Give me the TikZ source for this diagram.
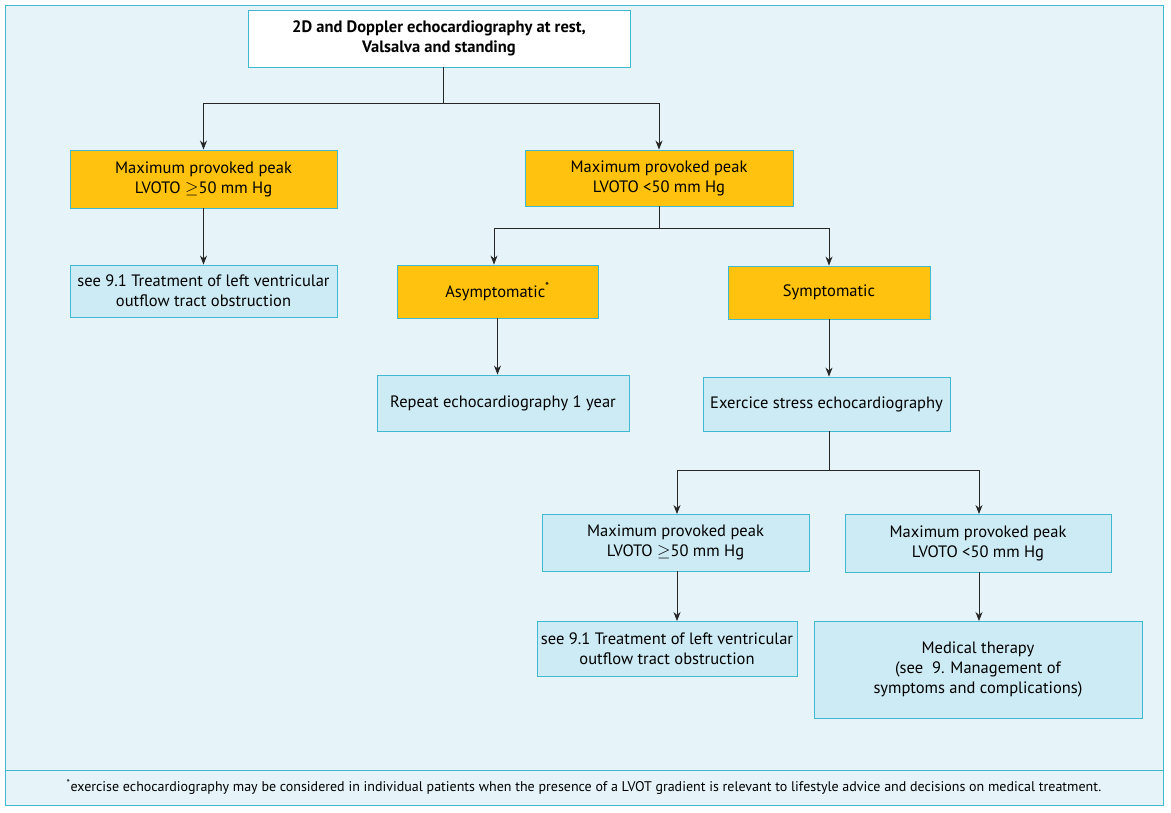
\documentclass[tikz,border=0pt]{standalone}
\usepackage{fontspec}
\setmainfont{PT Sans}
\usetikzlibrary{arrows.meta}
\definecolor{bg}{HTML}{E6F4F9}
\definecolor{bd}{HTML}{3FB8D0}
\definecolor{og}{HTML}{FFC20E}
\definecolor{lb}{HTML}{CDEBF4}
\begin{document}
\begin{tikzpicture}[x=1pt,y=-1pt,
  box/.style={draw=bd,line width=0.9pt,align=center,font=\fontsize{16.5}{20}\selectfont,inner sep=0pt},
  ob/.style={box,fill=og},
  bb/.style={box,fill=lb},
  ar/.style={-{Stealth[length=9pt,width=7pt]},line width=0.8pt,draw=black!85}]
\useasboundingbox (0,0) rectangle (1171,812);
\fill[bg] (5,5) rectangle (1163,805);
\draw[bd,line width=0.9pt] (5,5) rectangle (1163,805);
\draw[bd,line width=0.9pt] (5,770) -- (1163,770);
\node[box,fill=white,minimum width=382,minimum height=57,font=\bfseries\fontsize{16.5}{20}\selectfont] (top) at (439,38.5) {2D and Doppler echocardiography at rest,\\Valsalva and standing};
\node[ob,minimum width=267,minimum height=58] (a1) at (203.5,179) {Maximum provoked peak\\LVOTO $\geq$50 mm Hg};
\node[ob,minimum width=268,minimum height=56] (a2) at (659,178) {Maximum provoked peak\\LVOTO <50 mm Hg};
\node[bb,minimum width=267,minimum height=52] (b1) at (203.5,291) {see 9.1 Treatment of left ventricular\\outflow tract obstruction};
\node[ob,minimum width=201,minimum height=53] (as) at (497.5,291.5) {Asymptomatic\textsuperscript{*}};
\node[ob,minimum width=202,minimum height=53] (sy) at (829,292.5) {Symptomatic};
\node[bb,minimum width=252,minimum height=56] (rp) at (503,403) {Repeat echocardiography 1 year};
\node[bb,minimum width=247,minimum height=54] (ex) at (826.5,404) {Exercice stress echocardiography};
\node[bb,minimum width=267,minimum height=57] (c1) at (675.5,542.5) {Maximum provoked peak\\LVOTO $\geq$50 mm Hg};
\node[bb,minimum width=266,minimum height=58] (c2) at (978,543) {Maximum provoked peak\\LVOTO <50 mm Hg};
\node[bb,minimum width=260,minimum height=55] (d1) at (667,648.5) {see 9.1 Treatment of left ventricular\\outflow tract obstruction};
\node[bb,minimum width=328,minimum height=97] (d2) at (978,669.5) {Medical therapy\\(see~ 9. Management of\\symptoms and complications)};
\coordinate (j1) at (443,103);
\draw[line width=0.8pt,draw=black!85] (top.south) ++(4,0) -- (j1);
\draw[ar] (j1) -| (a1.north);
\draw[ar] (j1) -| (a2.north);
\draw[ar] (a1) -- (b1);
\coordinate (j2) at (659,228);
\draw[line width=0.8pt,draw=black!85] (a2) -- (j2);
\draw[ar] (j2) -| (as.north -| 494,0);
\draw[ar] (j2) -| (sy.north);
\draw[ar] (as) -- (as |- rp.north);
\draw[ar] (sy) -- (sy |- ex.north);
\coordinate (j3) at (829,470);
\draw[line width=0.8pt,draw=black!85] (ex.south -| j3) -- (j3);
\draw[ar] (j3) -| (677,514);
\draw[ar] (j3) -| (979,514);
\draw[ar] (677,571) -- (677,621);
\draw[ar] (979,572) -- (979,621);
\node[font=\fontsize{14}{16}\selectfont,anchor=center] (fn) at (584,787) {\textsuperscript{*}exercise echocardiography may be considered in individual patients when the presence of a LVOT gradient is relevant to lifestyle advice and decisions on medical treatment.};
\end{tikzpicture}
\end{document}
